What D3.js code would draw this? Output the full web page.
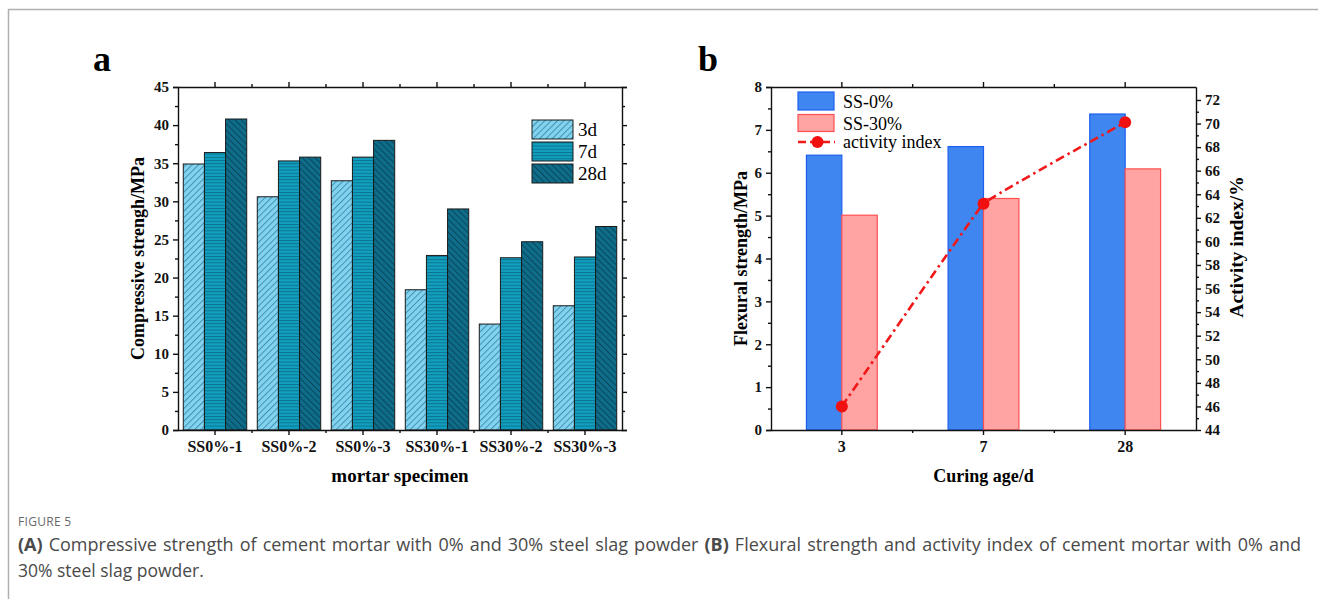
<!DOCTYPE html>
<meta charset="utf-8">
<style>
  body { margin: 0; background: #fff; }
  svg text { font-family: "Liberation Serif", "Times New Roman", serif; }
  .tick text { font-weight: bold; font-size: 15px; fill: #111; }
  .xax .tick text { font-size: 16px; }
  .axis path, .axis line { stroke: #111; stroke-width: 1.4; }
  .caption { font-family: "Open Sans", sans-serif; fill: #4a4a4a; }
</style>
<body>
<div id="chart"></div>
<script src="https://d3js.org/d3.v7.min.js"></script>
<script>
  // ---- data: panel a (compressive strength, MPa)
  var specimens = ["SS0%-1", "SS0%-2", "SS0%-3", "SS30%-1", "SS30%-2", "SS30%-3"];
  var ages = ["3d", "7d", "28d"];
  var comp3d = [34.9, 30.6, 32.7, 18.4, 13.9, 16.3];
  var comp7d = [36.4, 35.3, 35.8, 22.9, 22.6, 22.7];
  var comp28d = [40.8, 35.8, 38.0, 29.0, 24.7, 26.7];
  var compTicks = [0, 5, 10, 15, 20, 25, 30, 35, 40, 45];

  // ---- data: panel b (flexural strength, MPa / activity index, %)
  var curingAges = ["3", "7", "28"];
  var flexSS0 = [6.41, 6.61, 7.37];
  var flexSS30 = [5.01, 5.40, 6.09];
  var activityIndex = [46.0, 63.2, 70.1];
  var flexTicks = [0, 1, 2, 3, 4, 5, 6, 7, 8];
  var actTicks = [44, 46, 48, 50, 52, 54, 56, 58, 60, 62, 64, 66, 68, 70, 72];

  var W = 1318, H = 599;
  var svg = d3.select("#chart").append("svg")
    .attr("width", W).attr("height", H);

  // page frame lines
  svg.append("line").attr("x1", 8).attr("x2", W).attr("y1", 9.5).attr("y2", 9.5)
    .attr("stroke", "#b0b0b0").attr("stroke-width", 1.5);
  svg.append("line").attr("x1", 8.5).attr("x2", 8.5).attr("y1", 9).attr("y2", H)
    .attr("stroke", "#b0b0b0").attr("stroke-width", 1.5);

  // hatch patterns
  var defs = svg.append("defs");
  function hatch(id, fill, line, kind) {
    var p = defs.append("pattern").attr("id", id)
      .attr("patternUnits", "userSpaceOnUse");
    if (kind == "h") {
      p.attr("width", 6).attr("height", 3.2);
      p.append("rect").attr("width", 6).attr("height", 3.2).attr("fill", fill);
      p.append("line").attr("x1", 0).attr("x2", 6).attr("y1", 0.5).attr("y2", 0.5)
        .attr("stroke", line).attr("stroke-width", 0.9);
    } else {
      p.attr("width", 4.5).attr("height", 4.5)
        .attr("patternTransform", "rotate(" + (kind == "/" ? 45 : -45) + ")");
      p.append("rect").attr("width", 4.5).attr("height", 4.5).attr("fill", fill);
      p.append("line").attr("x1", 0.5).attr("x2", 0.5).attr("y1", 0).attr("y2", 4.5)
        .attr("stroke", line).attr("stroke-width", 1);
    }
  }
  hatch("h3", "#84d2ee", "#3b94b6", "/");
  hatch("h7", "#129fbf", "#0a6f8a", "h");
  hatch("h28", "#0f6d89", "#06475c", "\\");
  var fills = { "3d": "url(#h3)", "7d": "url(#h7)", "28d": "url(#h28)" };

  // ================= panel a =================
  var a = { left: 178, right: 622, top: 87, bottom: 430 };
  var xa = d3.scaleBand().domain(specimens).range([a.left, a.right]).padding(0);
  var xa2 = d3.scaleBand().domain(ages).range([0, xa.bandwidth()]).paddingOuter(0.25).paddingInner(0);
  var ya = d3.scaleLinear().domain([0, 45]).range([a.bottom, a.top]);

  var compData = specimens.map(function (s, i) {
    return { name: s, values: [
      { age: "3d", v: comp3d[i] }, { age: "7d", v: comp7d[i] }, { age: "28d", v: comp28d[i] }] };
  });

  var ga = svg.append("g");
  ga.selectAll("g.grp").data(compData).enter().append("g")
    .attr("transform", function (d) { return "translate(" + xa(d.name) + ",0)"; })
    .selectAll("rect").data(function (d) { return d.values; }).enter().append("rect")
    .attr("x", function (d) { return xa2(d.age); })
    .attr("width", xa2.bandwidth())
    .attr("y", function (d) { return ya(d.v); })
    .attr("height", function (d) { return ya(0) - ya(d.v); })
    .attr("fill", function (d) { return fills[d.age]; })
    .attr("stroke", "#1a1a1a").attr("stroke-width", 1);

  var minorA = specimens.slice(0, -1).map(function (s) { return xa(s) + xa.bandwidth(); });
  var minorYa = d3.range(2.5, 45, 5);

  // left axis
  ga.append("g").attr("class", "axis").attr("transform", "translate(" + a.left + ",0)")
    .call(d3.axisLeft(ya).tickValues(compTicks).tickSize(5).tickPadding(4));
  ga.append("g").attr("class", "axis").attr("transform", "translate(" + a.left + ",0)")
    .call(d3.axisLeft(ya).tickValues(minorYa).tickSize(3).tickFormat("")).select(".domain").remove();
  // right axis
  ga.append("g").attr("class", "axis").attr("transform", "translate(" + a.right + ",0)")
    .call(d3.axisRight(ya).tickValues(compTicks).tickSize(5).tickFormat(""));
  ga.append("g").attr("class", "axis").attr("transform", "translate(" + a.right + ",0)")
    .call(d3.axisRight(ya).tickValues(minorYa).tickSize(3).tickFormat("")).select(".domain").remove();
  // bottom axis
  ga.append("g").attr("class", "axis xax").attr("transform", "translate(0," + a.bottom + ")")
    .call(d3.axisBottom(xa).tickSize(5).tickPadding(6).tickSizeOuter(0));
  ga.selectAll(".minA").data(minorA).enter().append("line").attr("class", "minA")
    .attr("x1", function (d) { return d; }).attr("x2", function (d) { return d; })
    .attr("y1", a.bottom).attr("y2", a.bottom + 3).attr("stroke", "#111").attr("stroke-width", 1.4);
  // top axis
  ga.append("g").attr("class", "axis").attr("transform", "translate(0," + a.top + ")")
    .call(d3.axisTop(xa).tickSize(5).tickFormat("").tickSizeOuter(0));
  ga.selectAll(".minAt").data(minorA).enter().append("line").attr("class", "minAt")
    .attr("x1", function (d) { return d; }).attr("x2", function (d) { return d; })
    .attr("y1", a.top).attr("y2", a.top - 3).attr("stroke", "#111").attr("stroke-width", 1.4);

  // titles
  ga.append("text").attr("x", 102).attr("y", 71).attr("text-anchor", "middle")
    .style("font-weight", "bold").style("font-size", "36px").text("a");
  ga.append("text").attr("transform", "translate(144," + ((a.top + a.bottom) / 2) + ") rotate(-90)")
    .attr("text-anchor", "middle").style("font-weight", "bold").style("font-size", "18px")
    .text("Compressive strengh/MPa");
  ga.append("text").attr("x", (a.left + a.right) / 2).attr("y", 482).attr("text-anchor", "middle")
    .style("font-weight", "bold").style("font-size", "19px").text("mortar specimen");

  // legend a
  var la = ga.append("g").attr("transform", "translate(532,120)");
  ages.forEach(function (ag, i) {
    la.append("rect").attr("x", 0).attr("y", i * 22).attr("width", 41).attr("height", 19)
      .attr("fill", fills[ag]).attr("stroke", "#1a1a1a").attr("stroke-width", 1);
    la.append("text").attr("x", 46).attr("y", i * 22 + 16).style("font-size", "19px").text(ag);
  });

  // ================= panel b =================
  var b = { left: 771, right: 1196, top: 87, bottom: 430 };
  var xb = d3.scaleBand().domain(curingAges).range([b.left, b.right]).padding(0);
  var yb = d3.scaleLinear().domain([0, 8]).range([b.bottom, b.top]);
  var yb2 = d3.scaleLinear().domain([44, 73.1]).range([b.bottom, b.top]);
  var barW = xb.bandwidth() * 0.25;

  var gb = svg.append("g");
  gb.selectAll(".bar0").data(flexSS0).enter().append("rect").attr("class", "bar0")
    .attr("x", function (d, i) { return xb(curingAges[i]) + xb.bandwidth() / 2 - barW; })
    .attr("width", barW)
    .attr("y", function (d) { return yb(d); })
    .attr("height", function (d) { return yb(0) - yb(d); })
    .attr("fill", "#3f86f0").attr("stroke", "#1f5ff0").attr("stroke-width", 1.2);
  gb.selectAll(".bar30").data(flexSS30).enter().append("rect").attr("class", "bar30")
    .attr("x", function (d, i) { return xb(curingAges[i]) + xb.bandwidth() / 2; })
    .attr("width", barW)
    .attr("y", function (d) { return yb(d); })
    .attr("height", function (d) { return yb(0) - yb(d); })
    .attr("fill", "#ffa3a3").attr("stroke", "#ff5050").attr("stroke-width", 1.2);

  var actPts = activityIndex.map(function (v, i) {
    return [xb(curingAges[i]) + xb.bandwidth() / 2, yb2(v)];
  });
  var dashStyle = "9,4,2.5,4";
  gb.append("path").datum(actPts)
    .attr("d", d3.line().curve(d3.curveCardinal.tension(0.85)))
    .attr("fill", "none").attr("stroke", "#f01818").attr("stroke-width", 2.6)
    .attr("stroke-dasharray", dashStyle);
  gb.selectAll(".dot").data(actPts).enter().append("circle").attr("class", "dot")
    .attr("cx", function (d) { return d[0]; }).attr("cy", function (d) { return d[1]; })
    .attr("r", 6).attr("fill", "#f01010");

  var minorB = curingAges.slice(0, -1).map(function (s) { return xb(s) + xb.bandwidth(); });
  var minorYb = d3.range(0.5, 8, 1);
  var minorYb2 = d3.range(45, 73, 2);

  gb.append("g").attr("class", "axis").attr("transform", "translate(" + b.left + ",0)")
    .call(d3.axisLeft(yb).tickValues(flexTicks).tickSize(5).tickPadding(4));
  gb.append("g").attr("class", "axis").attr("transform", "translate(" + b.left + ",0)")
    .call(d3.axisLeft(yb).tickValues(minorYb).tickSize(3).tickFormat("")).select(".domain").remove();
  gb.append("g").attr("class", "axis").attr("transform", "translate(" + b.right + ",0)")
    .call(d3.axisRight(yb2).tickValues(actTicks).tickSize(5).tickPadding(4).tickSizeOuter(0));
  gb.append("g").attr("class", "axis").attr("transform", "translate(" + b.right + ",0)")
    .call(d3.axisRight(yb2).tickValues(minorYb2).tickSize(3).tickFormat("")).select(".domain").remove();
  gb.append("g").attr("class", "axis xax").attr("transform", "translate(0," + b.bottom + ")")
    .call(d3.axisBottom(xb).tickSize(5).tickPadding(6).tickSizeOuter(0));
  gb.selectAll(".minB").data(minorB).enter().append("line").attr("class", "minB")
    .attr("x1", function (d) { return d; }).attr("x2", function (d) { return d; })
    .attr("y1", b.bottom).attr("y2", b.bottom + 3).attr("stroke", "#111").attr("stroke-width", 1.4);
  gb.append("g").attr("class", "axis").attr("transform", "translate(0," + b.top + ")")
    .call(d3.axisTop(xb).tickSize(5).tickFormat("").tickSizeOuter(0));
  gb.selectAll(".minBt").data(minorB).enter().append("line").attr("class", "minBt")
    .attr("x1", function (d) { return d; }).attr("x2", function (d) { return d; })
    .attr("y1", b.top).attr("y2", b.top - 3).attr("stroke", "#111").attr("stroke-width", 1.4);

  gb.append("text").attr("x", 708).attr("y", 71).attr("text-anchor", "middle")
    .style("font-weight", "bold").style("font-size", "36px").text("b");
  gb.append("text").attr("transform", "translate(747," + ((b.top + b.bottom) / 2) + ") rotate(-90)")
    .attr("text-anchor", "middle").style("font-weight", "bold").style("font-size", "18px")
    .text("Flexural strength/MPa");
  gb.append("text").attr("transform", "translate(1243,247) rotate(-90)")
    .attr("text-anchor", "middle").style("font-weight", "bold").style("font-size", "19.5px")
    .text("Activity index/%");
  gb.append("text").attr("x", (b.left + b.right) / 2).attr("y", 482).attr("text-anchor", "middle")
    .style("font-weight", "bold").style("font-size", "18px").text("Curing age/d");

  // legend b
  var lb = gb.append("g").attr("transform", "translate(798,92)");
  lb.append("rect").attr("x", 0).attr("y", 0).attr("width", 36).attr("height", 18)
    .attr("fill", "#3f86f0").attr("stroke", "#1f5ff0").attr("stroke-width", 1.2);
  lb.append("text").attr("x", 45).attr("y", 15.5).style("font-size", "18px").text("SS-0%");
  lb.append("rect").attr("x", 0).attr("y", 22.5).attr("width", 36).attr("height", 17)
    .attr("fill", "#ffa3a3").attr("stroke", "#ff5050").attr("stroke-width", 1.2);
  lb.append("text").attr("x", 45).attr("y", 37.5).style("font-size", "18px").text("SS-30%");
  lb.append("line").attr("x1", 0).attr("x2", 37).attr("y1", 50).attr("y2", 50)
    .attr("stroke", "#f01818").attr("stroke-width", 2.6).attr("stroke-dasharray", "8,4");
  lb.append("circle").attr("cx", 19.5).attr("cy", 50).attr("r", 6).attr("fill", "#f01010");
  lb.append("text").attr("x", 45).attr("y", 56).style("font-size", "18px").text("activity index");

  // ================= caption =================
  svg.append("text").attr("class", "caption").attr("x", 18).attr("y", 526)
    .style("font-size", "12px").style("letter-spacing", "0.3px").style("fill", "#6a6a6a")
    .text("FIGURE 5");
  // first line is justified in the original, so stretch word spacing a bit
  var cap1 = svg.append("text").attr("class", "caption").attr("x", 18).attr("y", 551)
    .style("font-size", "18px").style("word-spacing", "1.4px");
  cap1.append("tspan").style("font-weight", "bold").text("(A)");
  cap1.append("tspan").text(" Compressive strength of cement mortar with 0% and 30% steel slag powder ");
  cap1.append("tspan").style("font-weight", "bold").text("(B)");
  cap1.append("tspan").text(" Flexural strength and activity index of cement mortar with 0% and");
  svg.append("text").attr("class", "caption").attr("x", 18).attr("y", 577)
    .style("font-size", "17.5px").text("30% steel slag powder.");
</script>
</body>
